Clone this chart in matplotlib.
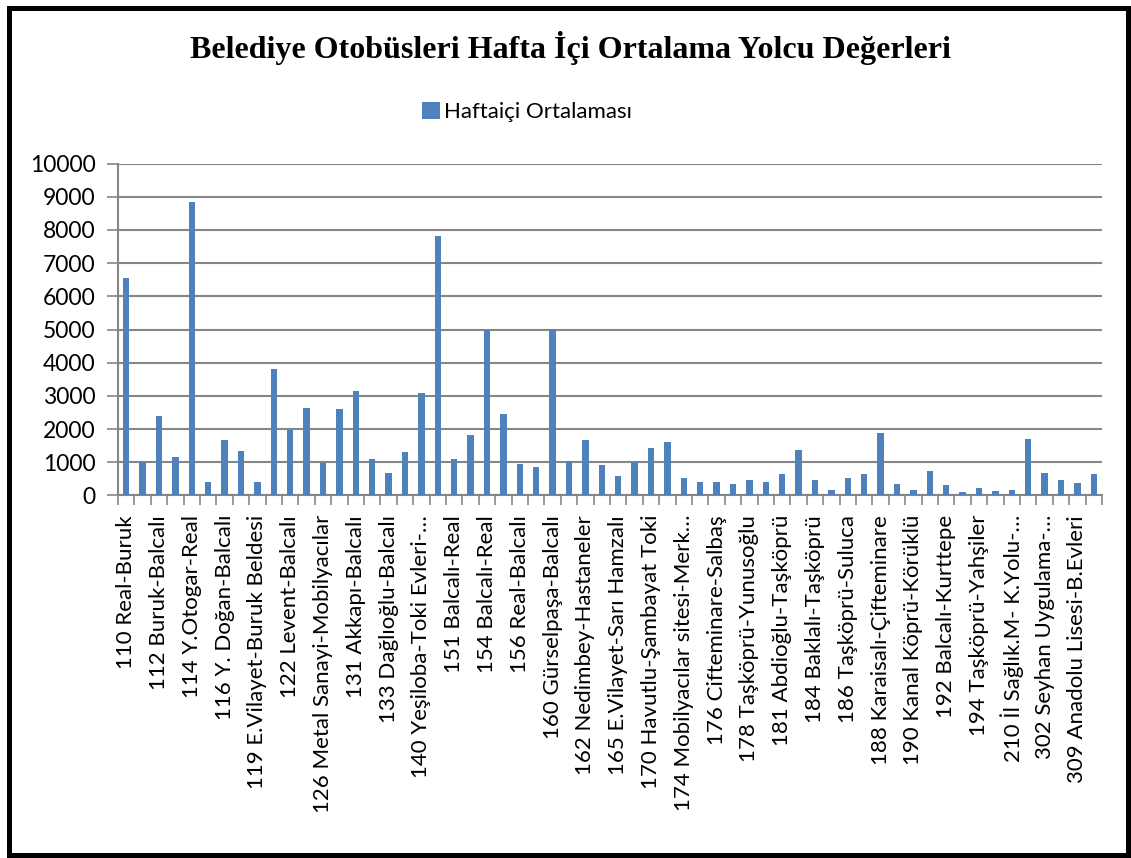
import numpy as np
import matplotlib
matplotlib.use("Agg")
import matplotlib.pyplot as plt
from matplotlib.patches import Rectangle, Patch

# hafta ici ortalama yolcu (60 hat, etiketler her ikinci hatta)
passengers = [6560, 1010, 2400, 1170, 8830, 420, 1680, 1340, 420, 3820,
              1960, 2640, 990, 2620, 3160, 1090, 670, 1300, 3090, 7810,
              1090, 1810, 4980, 2460, 960, 850, 5030, 1030, 1680, 920,
              600, 1010, 1430, 1620, 540, 410, 420, 360, 460, 400,
              640, 1380, 460, 160, 520, 650, 1880, 340, 180, 740,
              330, 100, 240, 130, 160, 1690, 670, 460, 390, 640]

route_labels = ["110 Real-Buruk", "112 Buruk-Balcalı", "114 Y.Otogar-Real",
                "116 Y. Doğan-Balcalı", "119 E.Vilayet-Buruk Beldesi",
                "122 Levent-Balcalı", "126 Metal Sanayi-Mobilyacılar",
                "131 Akkapı-Balcalı", "133 Dağlıoğlu-Balcalı",
                "140 Yeşiloba-Toki Evleri-…", "151 Balcalı-Real",
                "154 Balcalı-Real", "156 Real-Balcalı", "160 Gürselpaşa-Balcalı",
                "162 Nedimbey-Hastaneler", "165 E.Vilayet-Sarı Hamzalı",
                "170 Havutlu-Şambayat Toki", "174 Mobilyacılar sitesi-Merk…",
                "176 Cifteminare-Salbaş", "178 Taşköprü-Yunusoğlu",
                "181 Abdioğlu-Taşköprü", "184 Baklalı-Taşköprü",
                "186 Taşköprü-Suluca", "188 Karaisalı-Çifteminare",
                "190 Kanal Köprü-Körüklü", "192 Balcalı-Kurttepe",
                "194 Taşköprü-Yahşiler", "210 İl Sağlık.M- K.Yolu-…",
                "302 Seyhan Uygulama-…", "309 Anadolu Lisesi-B.Evleri"]

y_ticks = [0, 1000, 2000, 3000, 4000, 5000, 6000, 7000, 8000, 9000, 10000]

plt.rcParams['font.family'] = ['Lato', 'DejaVu Sans']

fig = plt.figure(figsize=(11.31, 8.58), dpi=100)
ax = fig.add_axes([118 / 1131, 1 - 495.5 / 858, 984 / 1131, 332 / 858])

x = np.arange(len(passengers))
ax.bar(x, passengers, width=0.4, color='#4F81BD', zorder=3)

ax.set_xlim(-0.5, len(passengers) - 0.5)
ax.set_ylim(0, 10000)
ax.set_yticks(y_ticks)
ax.set_yticklabels([str(v) for v in y_ticks], fontsize=16.5)
ax.yaxis.grid(True, color='#868686', linewidth=1.5, zorder=0)

ax.set_xticks(np.arange(0, len(passengers), 2))
ax.set_xticklabels(route_labels, rotation=90, fontsize=16, va='top', ha='center')
ax.set_xticks(np.arange(-0.5, len(passengers), 1), minor=True)
ax.tick_params(axis='x', which='major', length=0, pad=14)
ax.tick_params(axis='x', which='minor', length=7, width=1.2, color='#868686')
ax.tick_params(axis='y', length=8, width=1.2, color='#868686', pad=8)

for side in ['top', 'right']:
    ax.spines[side].set_visible(False)
for side in ['left', 'bottom']:
    ax.spines[side].set_color('#868686')
    ax.spines[side].set_linewidth(1.5)

fig.text(570 / 1131, 1 - 48 / 858, 'Belediye Otobüsleri Hafta İçi Ortalama Yolcu Değerleri',
         family='Liberation Serif', fontweight='bold', fontsize=23, ha='center', va='center')

handle = Patch(facecolor='#4F81BD', edgecolor='none')
fig.legend(handles=[handle], labels=['Haftaiçi Ortalaması'], loc='center',
           bbox_to_anchor=(527 / 1131, 1 - 112 / 858), frameon=False, fontsize=16,
           handlelength=0.8, handleheight=0.8, handletextpad=0.2)

fig.patches.append(Rectangle((8.5 / 1131, 3 / 858), 1119 / 1131, 847 / 858,
                             transform=fig.transFigure, fill=False,
                             edgecolor='black', linewidth=3.6))

fig.savefig('out.png', dpi=100)
